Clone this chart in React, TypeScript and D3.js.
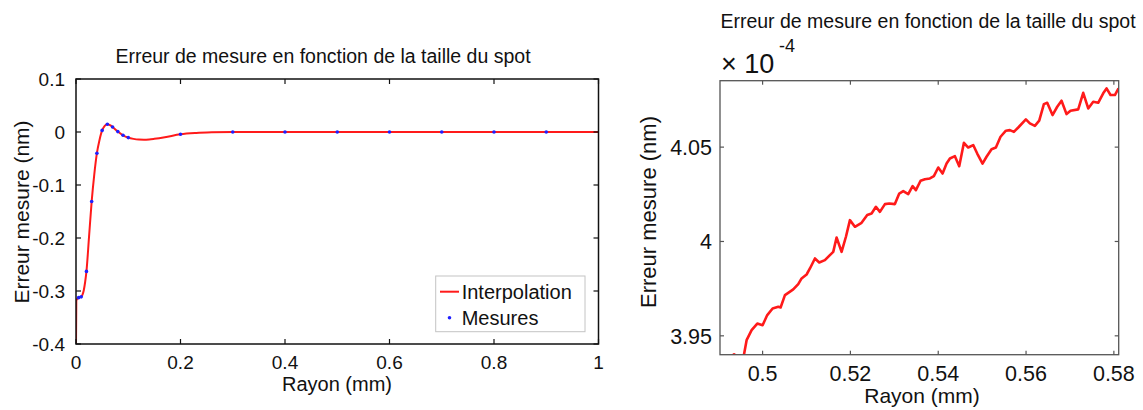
import React from "react";
import * as d3 from "d3";

// ---------- Data ----------
const titleText = "Erreur de mesure en fonction de la taille du spot";
const xLabelText = "Rayon (mm)";
const yLabelText = "Erreur mesure (nm)";

// Left plot: measured points
const measX = [0.005, 0.01, 0.02, 0.03, 0.04, 0.05, 0.06, 0.07, 0.08, 0.09, 0.1, 0.2, 0.3, 0.4, 0.5, 0.6, 0.7, 0.8, 0.9];
const measY = [-0.3125, -0.311, -0.263, -0.131, -0.04, 0.003, 0.0145, 0.0094, 0.0008, -0.0062, -0.0106, -0.0043, 0, 0, 0, 0, 0, 0, 0];

// Left plot: interpolation curve
const interpX = [0, 0.0006, 0.003, 0.005, 0.0075, 0.01, 0.0125, 0.015, 0.0175, 0.02, 0.025, 0.03, 0.035, 0.04, 0.045, 0.05, 0.055, 0.06, 0.065, 0.07, 0.08, 0.09, 0.1, 0.11, 0.12, 0.13, 0.14, 0.15, 0.17, 0.2, 0.23, 0.26, 0.3, 0.4, 0.5, 0.6, 0.7, 0.8, 0.9, 1.0];
const interpY = [-0.4, -0.318, -0.3145, -0.3125, -0.3115, -0.311, -0.307, -0.298, -0.283, -0.263, -0.197, -0.131, -0.08, -0.04, -0.015, 0.003, 0.0115, 0.0145, 0.0128, 0.0094, 0.0008, -0.0062, -0.0106, -0.013, -0.0143, -0.0146, -0.014, -0.0128, -0.0098, -0.0043, -0.0018, -0.0006, 0, 0, 0, 0, 0, 0, 0, 0];

const leftXTicks = [0, 0.2, 0.4, 0.6, 0.8, 1];
const leftXTickLabels = ["0", "0.2", "0.4", "0.6", "0.8", "1"];
const leftYTicks = [0.1, 0, -0.1, -0.2, -0.3, -0.4];
const leftYTickLabels = ["0.1", "0", "-0.1", "-0.2", "-0.3", "-0.4"];

// Right plot: zoomed curve (values in units of 1e-4 nm)
const zoomX = [0.4925, 0.4935, 0.4945, 0.4956, 0.49636, 0.4975, 0.49879, 0.5, 0.50106, 0.50228, 0.50357, 0.5041, 0.50509, 0.50584, 0.50698, 0.50812, 0.50888, 0.51002, 0.51078, 0.51192, 0.5129, 0.51419, 0.51533, 0.51609, 0.51685, 0.51799, 0.51898, 0.51989, 0.52102, 0.52254, 0.52383, 0.52482, 0.52581, 0.52672, 0.52786, 0.52884, 0.53013, 0.53112, 0.53203, 0.53317, 0.53416, 0.53491, 0.53598, 0.53696, 0.5381, 0.53901, 0.54, 0.54099, 0.5419, 0.54266, 0.5438, 0.54478, 0.54585, 0.54683, 0.54797, 0.54888, 0.55009, 0.551, 0.55214, 0.55313, 0.55419, 0.55541, 0.55632, 0.55723, 0.55822, 0.55996, 0.56087, 0.56201, 0.563, 0.56406, 0.56482, 0.56603, 0.5671, 0.56808, 0.56922, 0.57013, 0.57188, 0.57302, 0.57416, 0.5753, 0.57643, 0.57757, 0.57833, 0.57924, 0.58023, 0.58106];
const zoomY = [3.9385, 3.9402, 3.9386, 3.938, 3.9477, 3.953, 3.9565, 3.9556, 3.961, 3.9645, 3.9654, 3.965, 3.9716, 3.9728, 3.9746, 3.9774, 3.9804, 3.9825, 3.9857, 3.991, 3.9889, 3.9901, 3.9928, 3.9945, 4.0021, 3.9945, 4.0025, 4.0113, 4.0078, 4.0099, 4.014, 4.0148, 4.0184, 4.0157, 4.0198, 4.0201, 4.0198, 4.0254, 4.0267, 4.0251, 4.0293, 4.0272, 4.0322, 4.033, 4.0334, 4.0346, 4.0392, 4.036, 4.0413, 4.044, 4.0452, 4.0399, 4.0523, 4.0498, 4.0511, 4.0466, 4.0413, 4.0449, 4.0489, 4.0498, 4.0555, 4.0587, 4.059, 4.0581, 4.0604, 4.0647, 4.0626, 4.0613, 4.064, 4.0728, 4.0735, 4.067, 4.0714, 4.0746, 4.0675, 4.0693, 4.07, 4.0788, 4.0705, 4.074, 4.0735, 4.0785, 4.0811, 4.0776, 4.0776, 4.0811];

const rightXTicks = [0.5, 0.52, 0.54, 0.56, 0.58];
const rightXTickLabels = ["0.5", "0.52", "0.54", "0.56", "0.58"];
const rightYTicks = [3.95, 4.0, 4.05];
const rightYTickLabels = ["3.95", "4", "4.05"];

const legendLabels = ["Interpolation", "Mesures"];

// ---------- Styles ----------
const FONT = "'Liberation Sans', Arial, Helvetica, sans-serif";
const RED = "#ff1a1a";
const BLUE = "#1f1fff";

export default function App() {
  // Left plot geometry
  const L = { x0: 76, x1: 598.5, y0: 79, y1: 344 };
  const lx = d3.scaleLinear().domain([0, 1]).range([L.x0, L.x1]);
  const ly = d3.scaleLinear().domain([-0.4, 0.1]).range([L.y1, L.y0]);
  const interpData = interpX.map((x, i) => [x, interpY[i]] as [number, number]);
  const leftLine = d3
    .line<[number, number]>()
    .x((d) => lx(d[0]))
    .y((d) => ly(d[1]))
    .curve(d3.curveMonotoneX)(interpData) || "";

  // Right plot geometry
  const R = { x0: 720, x1: 1118.7, y0: 80.7, y1: 354.7 };
  const rx = d3.scaleLinear().domain([0.4903, 0.5811]).range([R.x0, R.x1]);
  const ry = d3.scaleLinear().domain([3.94, 4.0852]).range([R.y1, R.y0]);
  const zoomData = zoomX.map((x, i) => [x, zoomY[i]] as [number, number]);
  const rightLine = d3
    .line<[number, number]>()
    .x((d) => rx(d[0]))
    .y((d) => ry(d[1]))(zoomData) || "";

  const tl = 5;

  return (
    <svg
      width={1143}
      height={410}
      style={{ position: "absolute", left: 0, top: 0, background: "#fff" }}
      fontFamily={FONT}
    >
      <rect x={0} y={0} width={1143} height={410} fill="#fff" />
      <defs>
        <clipPath id="clipL">
          <rect x={L.x0} y={L.y0} width={L.x1 - L.x0} height={L.y1 - L.y0} />
        </clipPath>
        <clipPath id="clipR">
          <rect x={R.x0} y={R.y0} width={R.x1 - R.x0} height={R.y1 - R.y0} />
        </clipPath>
      </defs>

      {/* ---------- Left plot ---------- */}
      <text x={323} y={63} textAnchor="middle" fontSize={19.5} fill="#111">
        {titleText}
      </text>
      <g clipPath="url(#clipL)">
        <path d={leftLine} fill="none" stroke={RED} strokeWidth={2} />
        {measX.map((x, i) => (
          <circle key={i} cx={lx(x)} cy={ly(measY[i])} r={1.8} fill={BLUE} />
        ))}
      </g>
      <rect x={L.x0} y={L.y0} width={L.x1 - L.x0} height={L.y1 - L.y0} fill="none" stroke="#111" strokeWidth={1.5} />
      {leftXTicks.map((t, i) => (
        <g key={"lx" + i}>
          <line x1={lx(t)} x2={lx(t)} y1={L.y1} y2={L.y1 - tl} stroke="#111" strokeWidth={1.2} />
          <line x1={lx(t)} x2={lx(t)} y1={L.y0} y2={L.y0 + tl} stroke="#111" strokeWidth={1.2} />
          <text x={lx(t)} y={369} textAnchor="middle" fontSize={19} fill="#111">
            {leftXTickLabels[i]}
          </text>
        </g>
      ))}
      {leftYTicks.map((t, i) => (
        <g key={"ly" + i}>
          <line x1={L.x0} x2={L.x0 + tl} y1={ly(t)} y2={ly(t)} stroke="#111" strokeWidth={1.2} />
          <line x1={L.x1} x2={L.x1 - tl} y1={ly(t)} y2={ly(t)} stroke="#111" strokeWidth={1.2} />
          <text x={65} y={ly(t) + 7} textAnchor="end" fontSize={19} fill="#111">
            {leftYTickLabels[i]}
          </text>
        </g>
      ))}
      <text x={337} y={391} textAnchor="middle" fontSize={20} fill="#111">
        {xLabelText}
      </text>
      <text
        transform={`translate(29, 212) rotate(-90)`}
        textAnchor="middle"
        fontSize={21}
        fill="#111"
      >
        {yLabelText}
      </text>

      {/* Legend */}
      <rect x={435.7} y={276} width={149.3} height={55.7} fill="#fff" stroke="#c4c4c4" strokeWidth={1} />
      <line x1={440} x2={459} y1={291.7} y2={291.7} stroke={RED} strokeWidth={2} />
      <text x={461.7} y={299} fontSize={20} fill="#111">
        {legendLabels[0]}
      </text>
      <circle cx={449.5} cy={317.7} r={1.8} fill={BLUE} />
      <text x={461.7} y={325} fontSize={20} fill="#111">
        {legendLabels[1]}
      </text>

      {/* ---------- Right plot ---------- */}
      <text x={928} y={28} textAnchor="middle" fontSize={19.5} fill="#111">
        {titleText}
      </text>
      <text x={721} y={73} fontSize={27} fill="#111">
        {"× 10"}
      </text>
      <text x={779} y={52} fontSize={18} fill="#111">
        {"-4"}
      </text>
      <g clipPath="url(#clipR)">
        <path d={rightLine} fill="none" stroke={RED} strokeWidth={2.6} strokeLinejoin="round" />
      </g>
      <rect x={R.x0} y={R.y0} width={R.x1 - R.x0} height={R.y1 - R.y0} fill="none" stroke="#555" strokeWidth={1.3} />
      {rightXTicks.map((t, i) => (
        <g key={"rx" + i}>
          <line x1={rx(t)} x2={rx(t)} y1={R.y1} y2={R.y1 - 4} stroke="#555" strokeWidth={1.2} />
          <line x1={rx(t)} x2={rx(t)} y1={R.y0} y2={R.y0 + 4} stroke="#555" strokeWidth={1.2} />
          <text x={rx(t)} y={381} textAnchor="middle" fontSize={21.5} fill="#111">
            {rightXTickLabels[i]}
          </text>
        </g>
      ))}
      {rightYTicks.map((t, i) => (
        <g key={"ry" + i}>
          <line x1={R.x0} x2={R.x0 + 4} y1={ry(t)} y2={ry(t)} stroke="#555" strokeWidth={1.2} />
          <line x1={R.x1} x2={R.x1 - 4} y1={ry(t)} y2={ry(t)} stroke="#555" strokeWidth={1.2} />
          <text x={712} y={ry(t) + 8} textAnchor="end" fontSize={21.5} fill="#111">
            {rightYTickLabels[i]}
          </text>
        </g>
      ))}
      <text x={922} y={403} textAnchor="middle" fontSize={21} fill="#111">
        {xLabelText}
      </text>
      <text
        transform={`translate(656, 212) rotate(-90)`}
        textAnchor="middle"
        fontSize={22}
        fill="#111"
      >
        {yLabelText}
      </text>
    </svg>
  );
}
